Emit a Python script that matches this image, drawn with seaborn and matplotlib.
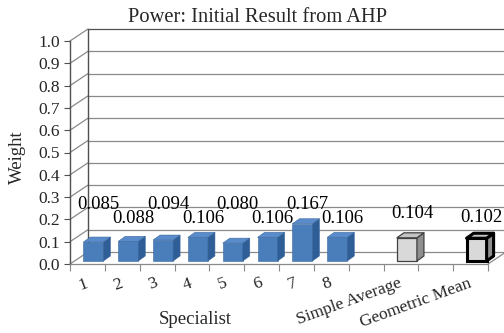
import numpy as np
import pandas as pd
import matplotlib
matplotlib.use("Agg")
import matplotlib.pyplot as plt
from matplotlib.patches import Polygon
import seaborn as sns

# ---- data ----
categories = ["1", "2", "3", "4", "5", "6", "7", "8", "Simple Average", "Geometric Mean"]
weights = [0.085, 0.088, 0.094, 0.106, 0.080, 0.106, 0.167, 0.106, 0.104, 0.102]
value_labels = ["0.085", "0.088", "0.094", "0.106", "0.080", "0.106", "0.167", "0.106", "0.104", "0.102"]
axis_order = ["1", "2", "3", "4", "5", "6", "7", "8", " ", "Simple Average", "  ", "Geometric Mean"]
y_ticks = [0.0, 0.1, 0.2, 0.3, 0.4, 0.5, 0.6, 0.7, 0.8, 0.9, 1.0]

df = pd.DataFrame({"Specialist": categories, "Weight": weights})

sns.set_style("white")
plt.rcParams["font.family"] = ["Liberation Serif", "DejaVu Serif"]

W, H, DPI = 504, 333, 100
fig = plt.figure(figsize=(W / DPI, H / DPI), dpi=DPI)
ax = fig.add_axes([70 / W, (H - 264) / H, 418 / W, 223 / H])

blue = "#4A7EBB"
grey = "#D9D9D9"
palette = {c: (grey if c in ("Simple Average", "Geometric Mean") else blue) for c in categories}
side_col = {blue: "#2F5D95", grey: "#8E8E8E"}
top_col = {blue: "#5A8CCB", grey: "#C4C4C4"}

sns.barplot(data=df, x="Specialist", y="Weight", order=axis_order, hue="Specialist",
            palette=palette, width=0.575, legend=False, ax=ax, saturation=1,
            zorder=3)

ax.set_xlim(-0.5, len(axis_order) - 0.5)
ax.set_ylim(0, 1)
fig.canvas.draw()

p0 = ax.transData.transform((0, 0))
ppx = ax.transData.transform((1, 0))[0] - p0[0]
ppy = ax.transData.transform((0, 1))[1] - p0[1]

def dxu(px):
    return px / ppx

def dyu(px):
    return px / ppy

wall_dx, wall_dy = dxu(18), dyu(12)
bar_dx, bar_dy = dxu(6), dyu(3)
dep_dx, dep_dy = dxu(7), dyu(5)

xmin, xmax = ax.get_xlim()
grid_c = "#8A8A8A"
axis_c = "#505050"

# back wall gridlines + left wall diagonals
for t in y_ticks:
    ax.plot([xmin + wall_dx, xmax + wall_dx + 1], [t + wall_dy, t + wall_dy],
            color=grid_c if t < 1.0 else axis_c, lw=0.9, clip_on=False, zorder=0)
    ax.plot([xmin, xmin + wall_dx], [t, t + wall_dy], color=grid_c, lw=0.9,
            clip_on=False, zorder=0)
ax.plot([xmin + wall_dx, xmin + wall_dx], [wall_dy, 1 + wall_dy], color=axis_c,
        lw=1.0, clip_on=False, zorder=0)
# floor right edge
ax.plot([xmax, xmax + wall_dx], [0, wall_dy], color=grid_c, lw=0.9, clip_on=False, zorder=0)

# 3D bars
bars = [p for p in ax.patches]
for p in bars:
    h = p.get_height()
    if not np.isfinite(h) or h <= 0:
        continue
    x0 = p.get_x() + bar_dx
    w = p.get_width()
    x1 = x0 + w
    y0 = bar_dy
    y1 = h + bar_dy
    p.set_x(x0)
    p.set_y(y0)
    fc = matplotlib.colors.to_hex(p.get_facecolor()).upper()
    base = grey if fc == grey.upper() else blue
    idx = int(round(p.get_x() + w / 2 - bar_dx))
    cat = axis_order[idx]
    if cat == "Geometric Mean":
        ec, lw = "black", 2.2
    elif cat == "Simple Average":
        ec, lw = "#404040", 0.9
    else:
        ec, lw = "#3A679E", 0.4
    p.set_edgecolor(ec)
    p.set_linewidth(lw)
    p.set_clip_on(False)
    side = Polygon([(x1, y0), (x1 + dep_dx, y0 + dep_dy), (x1 + dep_dx, y1 + dep_dy), (x1, y1)],
                   closed=True, facecolor=side_col[base], edgecolor=ec, lw=lw, zorder=3,
                   clip_on=False, joinstyle="round")
    top = Polygon([(x0, y1), (x1, y1), (x1 + dep_dx, y1 + dep_dy), (x0 + dep_dx, y1 + dep_dy)],
                  closed=True, facecolor=top_col[base], edgecolor=ec, lw=lw, zorder=3,
                  clip_on=False, joinstyle="round")
    ax.add_patch(side)
    ax.add_patch(top)

# value labels (staggered like the original)
for i, (cat, lab) in enumerate(zip(categories, value_labels)):
    xi = axis_order.index(cat)
    if cat in ("Simple Average", "Geometric Mean"):
        ly = 0.228 if cat == "Simple Average" else 0.21
    else:
        ly = 0.265 if i % 2 == 0 else 0.205
    ax.text(xi + bar_dx + dxu(5), ly, lab, ha="center", va="center", fontsize=13.5,
            color="black", zorder=5)

# axes styling
for s in ["top", "right"]:
    ax.spines[s].set_visible(False)
ax.spines["left"].set_color(axis_c)
ax.spines["left"].set_linewidth(1.0)
ax.spines["bottom"].set_color(grid_c)
ax.spines["bottom"].set_linewidth(0.9)
ax.set_yticks(y_ticks)
ax.set_yticklabels([f"{t:.1f}" for t in y_ticks], fontsize=12.5)
ax.tick_params(axis="y", length=4, width=0.8, color=axis_c, pad=3, left=True, direction="out")

ax.set_xticks(range(len(axis_order)))
ax.set_xticklabels([c.strip() for c in axis_order], fontsize=12.5)
ax.set_xticks(np.arange(-0.5, len(axis_order), 1.0), minor=True)
ax.tick_params(axis="x", which="minor", length=5, width=0.8, color=grid_c, direction="out",
               bottom=True)
ax.tick_params(axis="x", which="major", length=0, pad=13.5)
for lab in ax.get_xticklabels():
    lab.set_rotation(20)
    lab.set_rotation_mode("anchor")
    lab.set_ha("right")
    lab.set_va("center")
ax.grid(False)

ax.set_xlabel("Specialist", fontsize=13.5)
ax.xaxis.set_label_coords(0.30, -0.25)
ax.xaxis.label.set_va("center")
ax.set_ylabel("Weight", fontsize=13.5)
ax.yaxis.set_label_coords(-0.125, 0.48)
ax.yaxis.label.set_va("center")

fig.text(258 / W, 1 - 17 / H, "Power: Initial Result from AHP", ha="center", va="center",
         fontsize=14.8)

fig.savefig("out.png", dpi=DPI)
